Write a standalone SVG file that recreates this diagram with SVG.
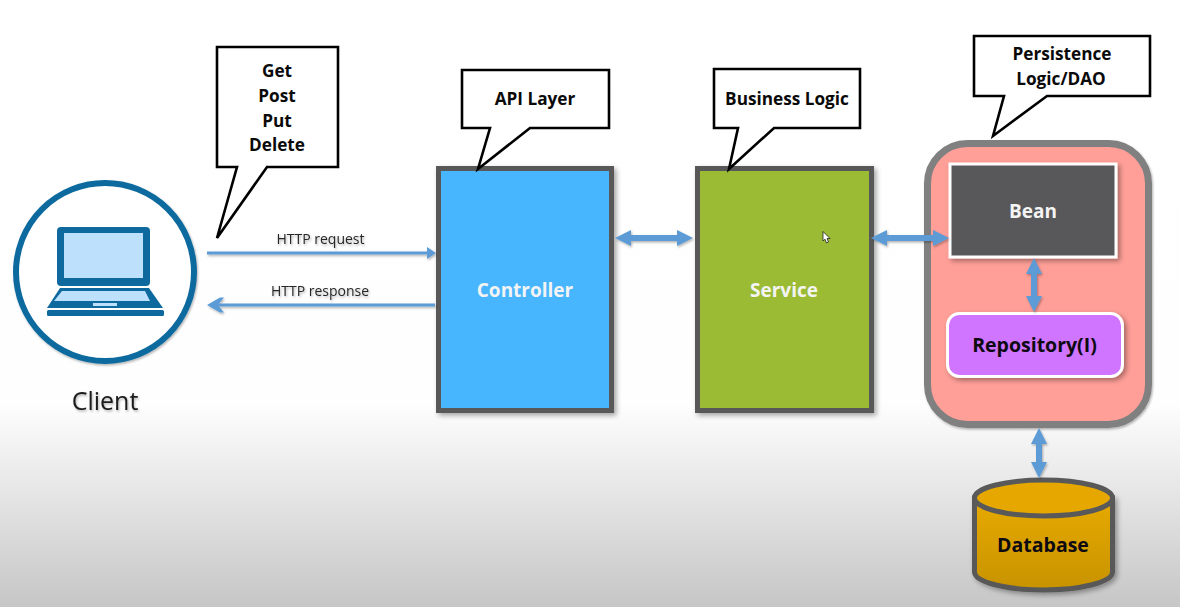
<svg xmlns="http://www.w3.org/2000/svg" width="1180" height="607" viewBox="0 0 1180 607">
<style>
text{font-family:"Open Sans","Noto Sans","Liberation Sans",sans-serif;text-anchor:middle}
.co{fill:#fff;stroke:#000;stroke-width:2.6;stroke-linejoin:miter}
.cot{font-size:17.2px;font-weight:700;fill:#0a0a0a}
.box{stroke:#595959;stroke-width:5;filter:url(#sh)}
.wt{font-size:19px;font-weight:700;fill:#f4f4f4}
.blk{font-size:19.500px;font-weight:700;fill:#0d0a12}
.arr{fill:#5b9bd5;filter:url(#sh2)}
.lab{font-size:14px;fill:#262626;filter:url(#sh2)}
.lap{fill:#0e6a9e}
.lit{fill:#bde0fd}
</style>
<defs>
<linearGradient id="bg" x1="0" y1="0" x2="0" y2="1"><stop offset="0" stop-color="#fff"/><stop offset="0.665" stop-color="#fefefe"/><stop offset="1" stop-color="#c6c6c6"/></linearGradient>
<linearGradient id="db" x1="0" y1="0" x2="0" y2="1"><stop offset="0" stop-color="#e8aa00"/><stop offset="1" stop-color="#c79300"/></linearGradient>
<filter id="sh" x="-10%" y="-10%" width="125%" height="125%"><feDropShadow dx="2.5" dy="2.5" stdDeviation="2.5" flood-color="#000" flood-opacity="0.35"/></filter>
<filter id="sh2" x="-15%" y="-30%" width="130%" height="170%"><feDropShadow dx="1" dy="1.5" stdDeviation="1.2" flood-color="#000" flood-opacity="0.3"/></filter>
</defs>
<rect width="1180" height="607" fill="url(#bg)"/>

<g id="client">
<circle cx="105" cy="272" r="89" fill="#fff" stroke="#0e6a9e" stroke-width="6" filter="url(#sh2)"/>
<rect class="lap" x="57" y="227" width="93" height="59" rx="4"/>
<rect class="lit" x="64" y="233" width="79" height="45"/>
<path class="lap" d="M60 288H149L163 308H47Z"/>
<path class="lit" d="M62 291H145L150 301H54Z"/>
<rect class="lit" x="93" y="303" width="24" height="3"/>
<rect class="lap" x="47" y="310" width="117" height="6" rx="1.5"/>
<text x="105" y="410" font-size="25" fill="#1a1a1a" filter="url(#sh2)">Client</text>
</g>

<g id="controller">
<rect class="box" x="438.500" y="168.500" width="173" height="242" fill="#47b6ff"/>
<text class="wt" x="525" y="297">Controller</text>
</g>
<g id="service">
<rect class="box" x="697.500" y="168.500" width="174" height="242" fill="#9bbb34"/>
<text class="wt" x="784" y="297">Service</text>
<path d="M823 231.500V241L825 239.200L826.500 243L828.500 242L827 238.500H830Z" fill="#fff" stroke="#222" stroke-width="0.8"/>
</g>
<g id="persistence">
<rect x="927.500" y="143.500" width="221" height="281" rx="40" fill="#ff9f98" stroke="#808080" stroke-width="7" filter="url(#sh2)"/>
</g>
<g id="bean">
<rect x="950" y="164" width="166" height="93" fill="#58585a" stroke="#fff" stroke-width="3" filter="url(#sh)"/>
<text class="wt" x="1033" y="218">Bean</text>
</g>
<g id="repository">
<rect x="947.500" y="313.500" width="175" height="63" rx="12" fill="#cf74ff" stroke="#fff" stroke-width="3" filter="url(#sh)"/>
<text class="blk" x="1034.500" y="352">Repository(I)</text>
</g>
<g id="database">
<path class="box" d="M974.500 498V572C974.500 582 1006 590 1043.500 590S1112.500 582 1112.500 572V498Z" fill="url(#db)"/>
<ellipse cx="1043.500" cy="498" rx="69" ry="18" fill="#e6a800" stroke="#595959" stroke-width="5"/>
<text class="blk" x="1043" y="552">Database</text>
</g>

<g id="connectors">
<path class="arr" d="M207 251.500H427V247L436 253L427 259V254.500H207Z"/>
<path class="arr" d="M435 303.500V306.500H219L224 312.500H220L207 305L220 297.500H224L219 303.500Z"/>
<path class="arr" d="M615 238L631 230V235H677V230L693 238L677 246V241H631V246Z"/>
<path class="arr" d="M871 238L887 230V235H933V230L949 238L933 246V241H887V246Z"/>
<path class="arr" d="M1034 258L1042 274H1037V296H1042L1034 312L1026 296H1031V274H1026Z"/>
<path class="arr" d="M1039 428L1047 444H1042V462H1047L1039 478L1031 462H1036V444H1031Z"/>
</g>

<g id="labels">
<text class="lab" x="320.500" y="244">HTTP request</text>
<text class="lab" x="320" y="296">HTTP response</text>
</g>

<g id="callout-methods">
<path class="co" d="M217 47H338V167H267L217 238L237 167H217Z"/>
<text class="cot" x="277" y="77">Get</text>
<text class="cot" x="277" y="102">Post</text>
<text class="cot" x="277" y="127">Put</text>
<text class="cot" x="277" y="151">Delete</text>
</g>
<g id="callout-api">
<path class="co" d="M462 70H609V128H530L478 169L490 128H462Z"/>
<text class="cot" x="535" y="105">API Layer</text>
</g>
<g id="callout-business">
<path class="co" d="M714 69H860V128H774L729 169L738 128H714Z"/>
<text class="cot" x="787" y="105">Business Logic</text>
</g>
<g id="callout-persistence">
<path class="co" d="M974 36H1150V96H1047L993 136L1004 96H974Z"/>
<text class="cot" x="1062" y="60">Persistence</text>
<text class="cot" x="1061" y="85">Logic/DAO</text>
</g>
</svg>
